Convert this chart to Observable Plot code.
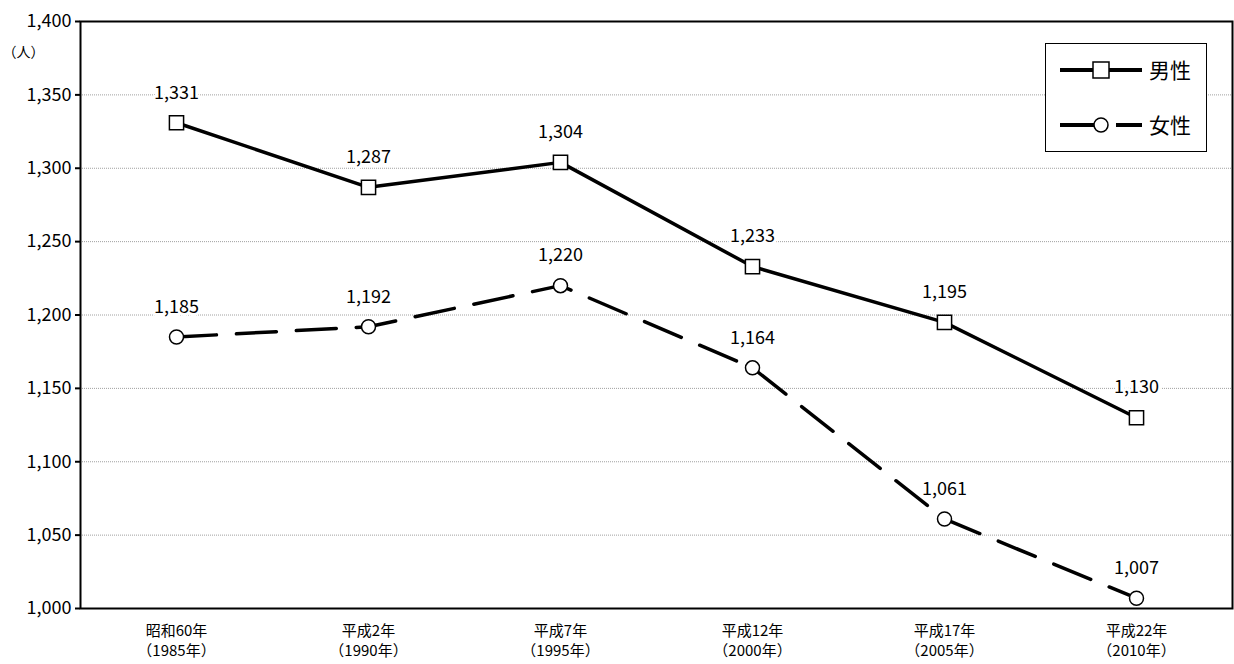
<!DOCTYPE html>
<html><head><meta charset="utf-8">
<script src="https://cdn.jsdelivr.net/npm/d3@7"></script>
<script src="https://cdn.jsdelivr.net/npm/@observablehq/plot@0.6"></script>
<style>body{margin:0;background:#fff;font-family:"Noto Sans CJK JP",sans-serif}#w{position:relative;width:1234px;height:664px}
#lg{position:absolute;left:1045px;top:43px;width:160px;height:107px;border:1px solid #000;background:#fff;font-size:19px}
</style></head><body><div id="w"><div id="lg">
<svg width="160" height="107">
<line x1="14" x2="96" y1="26" y2="26" stroke="#000" stroke-width="4"/><rect x="47" y="18" width="16" height="16" fill="#fff" stroke="#000" stroke-width="1.5"/>
<text x="103" y="34" font-size="21">男性</text>
<line x1="14" x2="52" y1="81" y2="81" stroke="#000" stroke-width="4"/><line x1="70" x2="96" y1="81" y2="81" stroke="#000" stroke-width="4"/><circle cx="55" cy="81" r="7" fill="#fff" stroke="#000" stroke-width="1.5"/>
<text x="103" y="89" font-size="21">女性</text></svg></div></div>
<script>
const years=["昭和60年\n（1985年）","平成2年\n（1990年）","平成7年\n（1995年）","平成12年\n（2000年）","平成17年\n（2005年）","平成22年\n（2010年）"];
const male=[1331,1287,1304,1233,1195,1130];
const female=[1185,1192,1220,1164,1061,1007];
const yTicks=[1000,1050,1100,1150,1200,1250,1300,1350,1400];
const m=years.map((x,i)=>({x,v:male[i]})), f=years.map((x,i)=>({x,v:female[i]}));
const fmt=d3.format(",");
const chart=Plot.plot({width:1234,height:664,marginLeft:80,marginRight:2,marginTop:21,marginBottom:56,
style:{fontFamily:"'Noto Sans CJK JP',sans-serif",fontSize:"16px",color:"#000"},
x:{type:"point",domain:years,padding:0.5,label:null},
y:{domain:[1000,1400],label:null},
marks:[
Plot.gridY(yTicks,{stroke:"#888",strokeOpacity:1,strokeWidth:0.8,strokeDasharray:"1,1"}),
Plot.frame({stroke:"#000",strokeWidth:2}),
Plot.axisY({ticks:yTicks,tickFormat:fmt,fontSize:18,tickSize:5,strokeWidth:2}),
Plot.axisX({tickSize:0,tickPadding:14,fontSize:15,lineHeight:1.3,tickFormat:d=>d}),
Plot.text(["（人）"],{frameAnchor:"top-left",dx:-78,dy:26,fontSize:14,textAnchor:"start"}),
Plot.line(m,{x:"x",y:"v",stroke:"#000",strokeWidth:3.5}),
Plot.line(f,{x:"x",y:"v",stroke:"#000",strokeWidth:3.5,strokeDasharray:"40,20"}),
Plot.dot(m,{x:"x",y:"v",symbol:"square",r:8,fill:"#fff",stroke:"#000",strokeWidth:1.5}),
Plot.dot(f,{x:"x",y:"v",symbol:"circle",r:7,fill:"#fff",stroke:"#000",strokeWidth:1.5}),
Plot.text(m,{x:"x",y:"v",text:d=>fmt(d.v),dy:-30,fontSize:18,fill:"#000",stroke:"#fff",strokeWidth:6}),
Plot.text(f,{x:"x",y:"v",text:d=>fmt(d.v),dy:-30,fontSize:18,fill:"#000",stroke:"#fff",strokeWidth:6})
]});
document.getElementById("w").prepend(chart);
</script></body></html>
